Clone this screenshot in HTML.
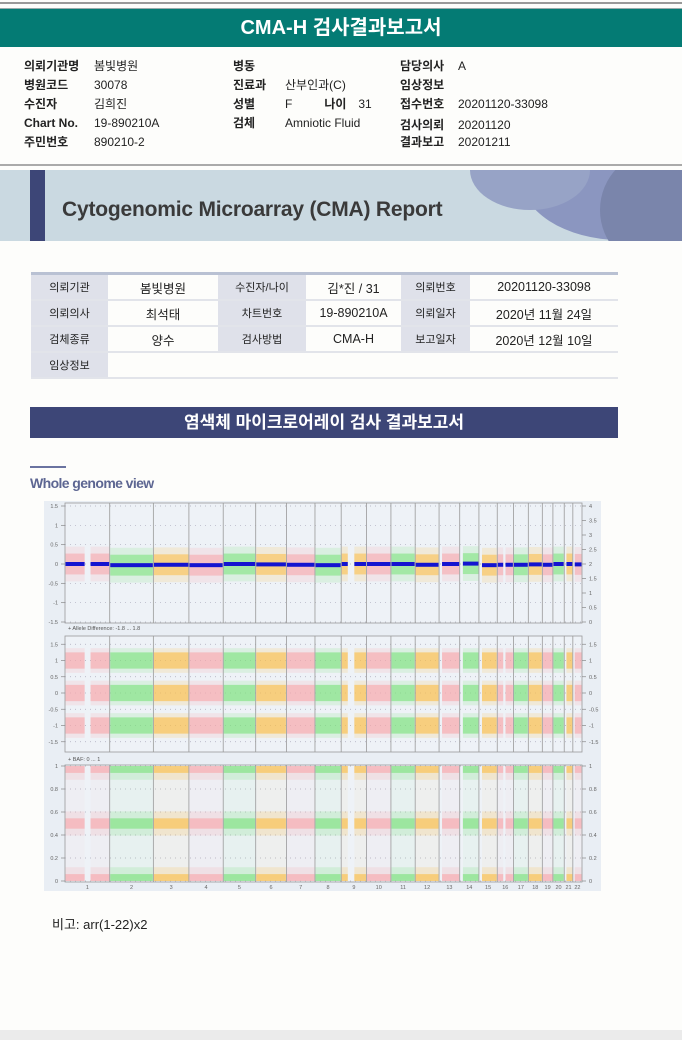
<!DOCTYPE html>
<html><head><meta charset="utf-8">
<style>
html,body{margin:0;padding:0;}
body{width:682px;height:1040px;position:relative;background:#fdfdfb;font-family:"Liberation Sans","Noto Sans CJK KR",sans-serif;overflow:hidden;}
.abs{position:absolute;}
.hdr{left:0;top:8px;width:682px;height:38px;background:#047b74;color:#fff;font-size:20px;font-weight:bold;text-align:center;line-height:38px;border-top:1px solid #9aa;}
.info{font-size:12px;color:#222;}
.info b{font-weight:bold;display:inline-block;}
.tbl{left:31px;top:272px;width:587px;border-collapse:collapse;font-size:12.5px;color:#222;border-top:3px solid #b9c1d3;}
.tbl td{height:24px;border-bottom:2px solid #e2e4ea;text-align:center;padding:0;}
.tbl td.l{background:#dfe1ea;font-size:11px;}
</style></head>
<body>
<div class="abs" style="left:0;top:2px;width:682px;height:2px;background:#999;"></div>
<div class="abs hdr">CMA-H 검사결과보고서</div>

<div class="abs info" style="left:0;top:55px;width:682px;height:100px;">
 <div class="abs" style="left:24px;top:2px;"><b style="width:70px">의뢰기관명</b>봄빛병원</div>
 <div class="abs" style="left:24px;top:21px;"><b style="width:70px">병원코드</b>30078</div>
 <div class="abs" style="left:24px;top:40px;"><b style="width:70px">수진자</b>김희진</div>
 <div class="abs" style="left:24px;top:61px;"><b style="width:70px">Chart No.</b>19-890210A</div>
 <div class="abs" style="left:24px;top:78px;"><b style="width:70px">주민번호</b>890210-2</div>
 <div class="abs" style="left:233px;top:2px;"><b>병동</b></div>
 <div class="abs" style="left:233px;top:21px;"><b style="width:52px">진료과</b>산부인과(C)</div>
 <div class="abs" style="left:233px;top:40px;"><b style="width:52px">성별</b>F<b style="margin-left:32px;width:34px">나이</b>31</div>
 <div class="abs" style="left:233px;top:59px;"><b style="width:52px">검체</b>Amniotic Fluid</div>
 <div class="abs" style="left:400px;top:2px;"><b style="width:58px">담당의사</b>A</div>
 <div class="abs" style="left:400px;top:21px;"><b>임상정보</b></div>
 <div class="abs" style="left:400px;top:40px;"><b style="width:58px">접수번호</b>20201120-33098</div>
 <div class="abs" style="left:400px;top:61px;"><b style="width:58px">검사의뢰</b>20201120</div>
 <div class="abs" style="left:400px;top:78px;"><b style="width:58px">결과보고</b>20201211</div>
</div>
<div class="abs" style="left:0;top:164px;width:682px;height:2px;background:#aaa;"></div>

<div class="abs" style="left:0;top:170px;width:682px;height:71px;background:#cad9e1;overflow:hidden;">
 <div class="abs" style="left:30px;top:0;width:15px;height:71px;background:#3d4677;"></div>
 <div class="abs" style="left:520px;top:-60px;width:200px;height:130px;border-radius:50%;background:#8b96c0;"></div>
 <div class="abs" style="left:470px;top:-40px;width:120px;height:80px;border-radius:50%;background:#97a3c6;"></div>
 <div class="abs" style="left:600px;top:-20px;width:120px;height:120px;border-radius:50%;background:#7a85ab;"></div>
 <div class="abs" style="left:62px;top:28px;font-size:21px;font-weight:bold;color:#3a3a3a;letter-spacing:-0.2px;">Cytogenomic Microarray (CMA) Report</div>
</div>

<table class="abs tbl">
<tr><td class="l" style="width:77px">의뢰기관</td><td style="width:110px">봄빛병원</td><td class="l" style="width:88px">수진자/나이</td><td style="width:95px">김*진 / 31</td><td class="l" style="width:69px">의뢰번호</td><td>20201120-33098</td></tr>
<tr><td class="l">의뢰의사</td><td>최석태</td><td class="l">차트번호</td><td>19-890210A</td><td class="l">의뢰일자</td><td>2020년 11월 24일</td></tr>
<tr><td class="l">검체종류</td><td>양수</td><td class="l">검사방법</td><td>CMA-H</td><td class="l">보고일자</td><td>2020년 12월 10일</td></tr>
<tr><td class="l">임상정보</td><td colspan="5"></td></tr>
</table>

<div class="abs" style="left:30px;top:407px;width:588px;height:31px;background:#3d4677;color:#fff;font-weight:bold;font-size:17px;text-align:center;line-height:31px;">염색체 마이크로어레이 검사 결과보고서</div>
<div class="abs" style="left:30px;top:466px;width:36px;height:2px;background:#6a73a0;"></div>
<div class="abs" style="left:30px;top:475px;font-size:14px;font-weight:bold;color:#5d6692;letter-spacing:-0.6px;">Whole genome view</div>

<svg class="abs" id="chart" style="left:44px;top:501px;" width="557" height="390" viewBox="44 501 557 390"></svg>

<div class="abs" style="left:52px;top:914px;font-size:13px;color:#222;">비고: arr(1-22)x2</div>
<div class="abs" style="left:0;top:1030px;width:682px;height:10px;background:#ebebeb;"></div>

<script>
const chromosomes = ["1","2","3","4","5","6","7","8","9","10","11","12","13","14","15","16","17","18","19","20","21","22"];
const chromSizes = [249,243,198,191,181,171,159,146,141,136,135,133,115,107,102,90,83,78,59,63,48,51];
const chromCopyNumber = [2,2,2,2,2,2,2,2,2,2,2,2,2,2,2,2,2,2,2,2,2,2];
const logRatioMean = [0.0,-0.03,-0.02,-0.03,0.0,-0.01,-0.02,-0.03,0.0,0.0,0.0,-0.02,0.0,0.01,-0.03,-0.02,-0.02,-0.01,-0.02,0.0,0.0,-0.01];
const gapStart = [0.45,0,0,0,0,0,0,0,0.28,0,0,0,0,0,0,0.4,0,0,0,0,0,0];
const gapEnd   = [0.56,0,0,0,0,0,0,0,0.50,0,0,0,0.12,0.14,0.14,0.48,0,0,0,0,0.2,0.15];
const bafLevels = [0,0.5,1];
const alleleDiffLevels = [-1,0,1];
const lrTicks = [1.5,1,0.5,0,-0.5,-1,-1.5];
const cnTicks = [4,3.5,3,2.5,2,1.5,1,0.5,0];
const adTicks = [1.5,1,0.5,0,-0.5,-1,-1.5];
const bafTicks = [1,0.8,0.6,0.4,0.2,0];

const svg = document.getElementById('chart');
const NS = "http://www.w3.org/2000/svg";
const colors = ["#f7a9ad","#7fe27f","#fbc04e"];
function mk(tag, attrs, parent){const e=document.createElementNS(NS,tag);for(const k in attrs)e.setAttribute(k,attrs[k]);(parent||svg).appendChild(e);return e;}

const X0=65, X1=582;
const total = chromSizes.reduce((a,b)=>a+b,0);
const starts=[]; {let acc=0; chromSizes.forEach(s=>{starts.push(acc);acc+=s;});}
const xOf = g => X0 + (X1-X0)*g/total;

const panels = [
 {name:'log-ratio-panel', top:503, bot:623, yOf:v=>564 - v*(58/1.5), ticks:lrTicks},
 {name:'allele-diff-panel', top:636, bot:752, yOf:v=>693 - v*(32.5), ticks:adTicks},
 {name:'baf-panel', top:765, bot:882, yOf:v=>881 - v*115, ticks:bafTicks}
];
const bg = mk('rect',{x:44,y:501,width:557,height:390,fill:'#e9eef4'});



function segs(i){
 const s=starts[i], L=chromSizes[i];
 const a=gapStart[i], b=gapEnd[i];
 if(b<=0) return [[s,s+L]];
 if(a<=0) return [[s+b*L,s+L]];
 return [[s,s+a*L],[s+b*L,s+L]];
}

panels.forEach((p,pi)=>{
 const g=mk('g',{});
 
 
 mk('rect',{x:X0,y:p.top,width:X1-X0,height:p.bot-p.top,fill:'#eef2f7',stroke:'#999','stroke-width':0.8},g);
 p.ticks.forEach(t=>{
  const y=p.yOf(t);
  mk('line',{x1:X0,x2:X1,y1:y,y2:y,stroke:'#aab','stroke-width':0.7,'stroke-dasharray':'1 4'},g);
  mk('line',{x1:X0-4,x2:X0,y1:y,y2:y,stroke:'#888','stroke-width':0.7},g);
  const tx=mk('text',{x:X0-7,y:y+2,'font-size':5.5,'text-anchor':'end',fill:'#666'},g); tx.textContent=t;
 });
 const right = pi===0?cnTicks:p.ticks;
 right.forEach((t,k)=>{
  const y=pi===0? 506+k*(116/8) : p.yOf(t);
  mk('line',{x1:X1,x2:X1+4,y1:y,y2:y,stroke:'#888','stroke-width':0.7},g);
  const tx=mk('text',{x:X1+7,y:y+2,'font-size':5.5,fill:'#666'},g); tx.textContent=t;
 });
 chromosomes.forEach((c,i)=>{
  const col=colors[i%3];
  segs(i).forEach(([a,b])=>{
   const x=xOf(a)+0.5, w=xOf(b)-xOf(a)-1;
   if(pi===0){
    const m=logRatioMean[i];
    const r1=mk('rect',{x:x,y:p.yOf(m+0.45),width:w,height:p.yOf(m-0.45)-p.yOf(m+0.45),fill:col,opacity:0.18},g);
    
    
    mk('rect',{x:x,y:p.yOf(m+0.27),width:w,height:p.yOf(m-0.27)-p.yOf(m+0.27),fill:col,opacity:0.6},g);
   } else if(pi===1){
    alleleDiffLevels.forEach(v=>{
     mk('rect',{x:x,y:p.yOf(v+0.38),width:w,height:p.yOf(v-0.38)-p.yOf(v+0.38),fill:col,opacity:0.18},g);
     const r=mk('rect',{x:x,y:p.yOf(v+0.25),width:w,height:p.yOf(v-0.25)-p.yOf(v+0.25),fill:col,opacity:0.65},g);
     
     
    });
   } else {
    mk('rect',{x:x,y:p.yOf(0.98),width:w,height:p.yOf(0.02)-p.yOf(0.98),fill:col,opacity:0.05},g);
    bafLevels.forEach(v=>{
     const hw = v===0.5?0.045:0.06;
     const lo=Math.max(0,v-hw), hi=Math.min(1,v+hw);
     mk('rect',{x:x,y:p.yOf(Math.min(1,hi+0.06)),width:w,height:p.yOf(Math.max(0,lo-0.06))-p.yOf(Math.min(1,hi+0.06)),fill:col,opacity:0.2},g);
     const r=mk('rect',{x:x,y:p.yOf(hi),width:w,height:p.yOf(lo)-p.yOf(hi),fill:col,opacity:0.65},g);
     
     
    });
   }
  });
  if(pi===0){
   segs(i).forEach(([a,b])=>{
    const m=logRatioMean[i];
    const ln=mk('rect',{x:xOf(a)+0.5,y:p.yOf(m)-2,width:xOf(b)-xOf(a)-1,height:4,fill:'#1414d0'},g);
    
    
   });
  }
 });
 starts.forEach((s,i)=>{ if(i>0) mk('line',{x1:xOf(s),x2:xOf(s),y1:p.top,y2:p.bot,stroke:'#999','stroke-width':0.8},g); });
});

[["+ Allele Difference: -1.8 ... 1.8",630,'allele-diff-label'],["+ BAF: 0 ... 1",761,'baf-label']].forEach(d=>{
 const t=mk('text',{x:68,y:d[1],'font-size':5.5,fill:'#555'});
 t.textContent=d[0];
 
 
});
chromosomes.forEach((c,i)=>{
 const t=mk('text',{x:xOf(starts[i]+chromSizes[i]/2),y:889,'font-size':5.5,'text-anchor':'middle',fill:'#666'});
 t.textContent=c;
 
 
});
</script>
</body></html>
